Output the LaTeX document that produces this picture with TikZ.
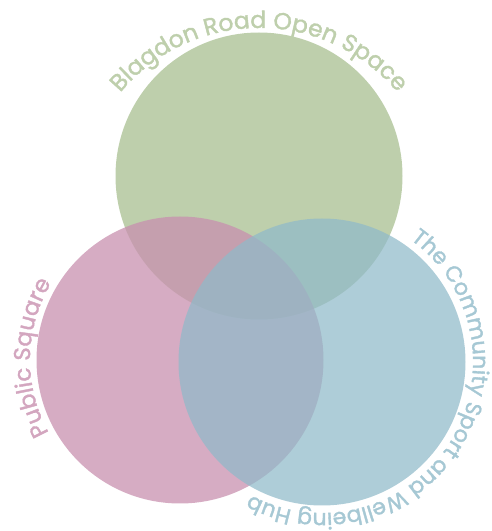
\documentclass[tikz,border=0pt]{standalone}
\usepackage{fontspec}
\setmainfont{Poppins}
\newfontfamily\arcfont{Poppins}[FakeBold=1.6]
\usetikzlibrary{
  positioning,
  decorations.text,
}
\definecolor{bro_green}{RGB}{190,207,172}
\definecolor{ps_pink}{RGB}{200,144,175}
\definecolor{hub_blue}{RGB}{144,186,201}
\tikzset{
  area/.style={circle, inner sep=0pt, minimum size=287pt},
  arclabel/.style 2 args={decorate, decoration={text along path, text align=center,
      text={|\arcfont\fontsize{#1}{28}\selectfont|#2}}},
}

\begin{document}
\begin{tikzpicture}[x=1pt, y=1pt]
    \useasboundingbox (0,0) rectangle (491,531);
    % the three areas, drawn back to front
    \node[area, fill=bro_green] (open) at (259,355) {};
    \node[area, fill=ps_pink, fill opacity=0.75] (square) at (180,171) {};
    \node[area, fill=hub_blue, fill opacity=0.73] (hub) at (322,169) {};

    % the top label runs on a flatter arc than its circle
    \coordinate (openarc) at ([yshift=-33pt]open.center);

    % labels round the outside of each area
    \path[arclabel={23.5}{Blagdon Road Open Space}, decoration={text color=bro_green}]
      ([shift={(148:181)}]openarc) arc[start angle=148, end angle=32, radius=181];
    \path[arclabel={23}{Public Square}, decoration={text color=ps_pink!80}]
      ([shift={(210:150)}]square.center) arc[start angle=210, end angle=148, radius=150];
    \path[arclabel={22}{The Community Sport and Wellbeing Hub}, decoration={text color=hub_blue!80}]
      ([shift={(62:151)}]hub.center) arc[start angle=62, end angle=-126, radius=151];
  \end{tikzpicture}
\end{document}
